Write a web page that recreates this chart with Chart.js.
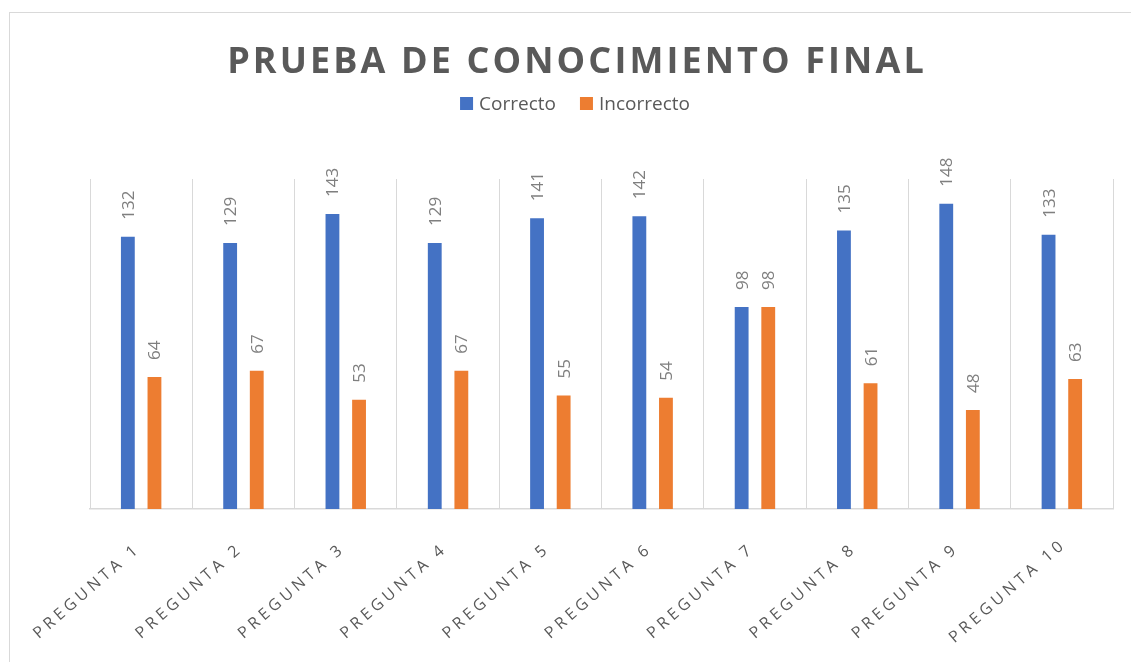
<!DOCTYPE html>
<html>
<head>
<meta charset="utf-8">
<script src="https://cdn.jsdelivr.net/npm/chart.js@4.4.1/dist/chart.umd.min.js"></script>
<style>
  html, body { margin: 0; padding: 0; background: #fff; }
  #wrap { position: relative; width: 1131px; height: 662px; }
</style>
</head>
<body>
<div id="wrap"><canvas id="chart"></canvas></div>
<script>
const chartTitle = 'PRUEBA DE CONOCIMIENTO FINAL';
const categories = ['PREGUNTA 1', 'PREGUNTA 2', 'PREGUNTA 3', 'PREGUNTA 4', 'PREGUNTA 5',
                    'PREGUNTA 6', 'PREGUNTA 7', 'PREGUNTA 8', 'PREGUNTA 9', 'PREGUNTA 10'];
const seriesNames = ['Correcto', 'Incorrecto'];
const correcto = [132, 129, 143, 129, 141, 142, 98, 135, 148, 133];
const incorrecto = [64, 67, 53, 67, 55, 54, 98, 61, 48, 63];
const yMax = 160;

const gray = '#595959';
const centerX = 575;

// Title, legend, rotated axis labels and value labels drawn by hand
const decorations = {
    id: 'decorations',
    beforeDraw(chart) {
        const ctx = chart.ctx;
        ctx.save();
        ctx.strokeStyle = '#d9d9d9';
        ctx.lineWidth = 1;
        ctx.strokeRect(9.5, 12.5, 1200, 800);
        ctx.restore();
    },
    afterDatasetsDraw(chart) {
        const ctx = chart.ctx;
        ctx.save();
        ctx.font = '17px "Open Sans"';
        ctx.fillStyle = '#7f7f7f';
        ctx.textAlign = 'left';
        ctx.textBaseline = 'alphabetic';
        chart.data.datasets.forEach((ds, i) => {
            chart.getDatasetMeta(i).data.forEach((bar, j) => {
                ctx.save();
                ctx.translate(bar.x, bar.y - 17);
                ctx.rotate(-Math.PI / 2);
                ctx.fillText(String(ds.data[j]), 0, 6);
                ctx.restore();
            });
        });
        ctx.restore();
    },
    afterDraw(chart) {
        const ctx = chart.ctx;
        ctx.save();
        ctx.fillStyle = gray;
        ctx.textBaseline = 'alphabetic';

        // title
        ctx.font = 'bold 36px "Open Sans"';
        ctx.letterSpacing = '3.1px';
        ctx.textAlign = 'center';
        ctx.fillText(chartTitle, centerX + 2, 73);

        // legend
        ctx.letterSpacing = '0px';
        ctx.font = '19px "Open Sans"';
        ctx.textAlign = 'left';
        const box = 13, gapText = 6, gapItem = 24;
        const widths = chart.data.datasets.map(ds => box + gapText + ctx.measureText(ds.label).width);
        let x = centerX - (widths.reduce((a, b) => a + b, 0) + gapItem) / 2;
        chart.data.datasets.forEach((ds, i) => {
            ctx.fillStyle = ds.backgroundColor;
            ctx.fillRect(x, 97, box, box);
            ctx.fillStyle = gray;
            ctx.fillText(ds.label, x + box + gapText, 110);
            x += widths[i] + gapItem;
        });

        // category labels
        const xs = chart.scales.x;
        ctx.font = '16px "Open Sans"';
        ctx.letterSpacing = '4px';
        ctx.textAlign = 'center';
        const angle = 41 * Math.PI / 180;
        categories.forEach((lab, j) => {
            ctx.save();
            ctx.translate(xs.getPixelForValue(j) - 55, 590);
            ctx.rotate(-angle);
            ctx.fillText(lab, 0, 6);
            ctx.restore();
        });
        ctx.restore();
    }
};

new Chart(document.getElementById('chart'), {
    type: 'bar',
    data: {
        labels: categories,
        datasets: [{
            label: seriesNames[0],
            data: correcto,
            backgroundColor: '#4472C4',
            categoryPercentage: 0.52,
            barPercentage: 0.52
        }, {
            label: seriesNames[1],
            data: incorrecto,
            backgroundColor: '#ED7D31',
            categoryPercentage: 0.52,
            barPercentage: 0.52
        }]
    },
    options: {
        responsive: true,
        maintainAspectRatio: false,
        animation: false,
        layout: { padding: { top: 179, left: 90, right: 18, bottom: 153 } },
        plugins: {
            legend: { display: false },
            title: { display: false },
            tooltip: { enabled: false }
        },
        scales: {
            x: {
                grid: { offset: true, color: '#d9d9d9', drawTicks: false },
                border: { color: '#d9d9d9', width: 1.5 },
                ticks: { display: false }
            },
            y: { display: false, min: 0, max: yMax }
        }
    },
    plugins: [decorations]
});
</script>
</body>
</html>
